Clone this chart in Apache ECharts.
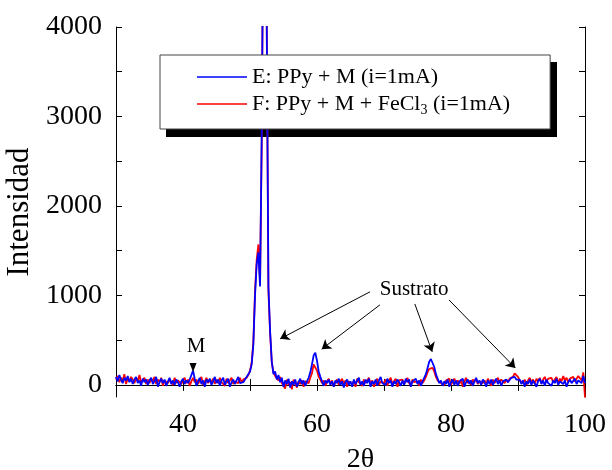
<!DOCTYPE html>
<html>
<head>
<meta charset="utf-8">
<script src="https://cdn.jsdelivr.net/npm/echarts@6/dist/echarts.min.js"></script>
<style>
  html, body { margin: 0; padding: 0; background: #fff; }
  #chart { width: 612px; height: 470px; }
</style>
</head>
<body>
<div id="chart"></div>
<script>
// 2θ grid, 0.25 deg steps
var theta = [
  30,30.25,30.5,30.75,31,31.25,31.5,31.75,32,32.25,32.5,32.75,33,33.25,33.5,33.75,34,34.25,34.5,34.75,
  35,35.25,35.5,35.75,36,36.25,36.5,36.75,37,37.25,37.5,37.75,38,38.25,38.5,38.75,39,39.25,39.5,39.75,
  40,40.25,40.5,40.75,41,41.25,41.5,41.75,42,42.25,42.5,42.75,43,43.25,43.5,43.75,44,44.25,44.5,44.75,
  45,45.25,45.5,45.75,46,46.25,46.5,46.75,47,47.25,47.5,47.75,48,48.25,48.5,48.75,49,49.25,49.5,49.75,
  50,50.25,50.5,50.75,51,51.25,51.5,51.75,52,52.25,52.5,52.75,53,53.25,53.5,53.75,54,54.25,54.5,54.75,
  55,55.25,55.5,55.75,56,56.25,56.5,56.75,57,57.25,57.5,57.75,58,58.25,58.5,58.75,59,59.25,59.5,59.75,
  60,60.25,60.5,60.75,61,61.25,61.5,61.75,62,62.25,62.5,62.75,63,63.25,63.5,63.75,64,64.25,64.5,64.75,
  65,65.25,65.5,65.75,66,66.25,66.5,66.75,67,67.25,67.5,67.75,68,68.25,68.5,68.75,69,69.25,69.5,69.75,
  70,70.25,70.5,70.75,71,71.25,71.5,71.75,72,72.25,72.5,72.75,73,73.25,73.5,73.75,74,74.25,74.5,74.75,
  75,75.25,75.5,75.75,76,76.25,76.5,76.75,77,77.25,77.5,77.75,78,78.25,78.5,78.75,79,79.25,79.5,79.75,
  80,80.25,80.5,80.75,81,81.25,81.5,81.75,82,82.25,82.5,82.75,83,83.25,83.5,83.75,84,84.25,84.5,84.75,
  85,85.25,85.5,85.75,86,86.25,86.5,86.75,87,87.25,87.5,87.75,88,88.25,88.5,88.75,89,89.25,89.5,89.75,
  90,90.25,90.5,90.75,91,91.25,91.5,91.75,92,92.25,92.5,92.75,93,93.25,93.5,93.75,94,94.25,94.5,94.75,
  95,95.25,95.5,95.75,96,96.25,96.5,96.75,97,97.25,97.5,97.75,98,98.25,98.5,98.75,99,99.25,99.5,99.75,
  100
];

// E: PPy + M (azul)
var intensE = [
  90,40,110,60,20,80,50,100,30,70,10,60,90,20,50,-10,70,30,60,0,
  50,80,10,40,90,-20,30,70,20,60,-10,40,80,10,50,0,60,30,-20,40,
  70,10,50,20,60,40,160,70,-10,40,80,10,50,-20,60,30,70,0,40,90,
  20,60,-10,50,80,0,40,70,-20,30,60,10,50,90,20,40,30,60,90,120,
  150,230,450,1000,1350,1480,1100,2800,5500,9000,4000,1100,600,260,120,150,60,110,30,80,
  -20,50,10,70,-30,40,0,60,-20,30,70,10,50,-10,40,80,140,230,330,360,
  270,150,90,40,-10,50,20,60,0,40,-20,50,20,70,0,40,-30,30,60,0,
  40,-20,60,10,50,80,0,40,-10,60,20,70,-20,40,10,60,-10,50,90,20,
  40,0,70,20,50,-20,40,10,60,30,-10,50,0,70,30,60,-20,40,20,70,
  10,50,-10,40,80,120,190,260,290,270,200,120,70,20,50,-10,40,10,60,-20,
  30,60,0,50,-10,40,20,70,-20,30,60,10,50,-10,40,80,20,50,0,60,
  30,-20,50,10,60,0,40,70,10,50,-10,40,20,60,30,50,80,70,90,60,
  40,60,10,50,-20,40,10,60,0,50,30,-20,40,70,10,50,-10,60,20,40,
  -10,50,20,70,0,40,60,10,50,-20,30,60,20,40,70,10,50,30,20,100,
  20
];

// F: PPy + M + FeCl3 (rojo)
var intensF = [
  60,100,30,80,50,120,10,70,40,90,60,20,80,40,110,30,50,80,10,60,
  20,70,40,90,10,60,30,80,-10,50,70,20,60,40,0,80,20,50,70,10,
  50,80,20,60,-10,40,80,30,60,10,50,90,0,40,80,20,60,30,70,10,
  60,20,80,30,50,-10,70,20,50,80,10,40,60,20,80,30,60,40,80,110,
  160,250,480,1050,1400,1570,1150,2700,5500,9000,4000,1050,580,250,140,100,120,50,90,20,
  40,-40,60,0,30,-50,60,20,-30,40,10,50,-20,40,60,20,80,130,230,220,
  160,90,60,20,50,-10,40,70,10,50,-20,30,60,0,40,70,10,50,-20,40,
  60,10,40,-20,70,30,50,-10,60,20,40,80,10,50,-20,30,70,0,40,60,
  20,60,-10,50,80,10,40,70,-20,50,30,60,10,40,80,20,-10,60,30,50,
  40,-10,60,20,50,90,140,180,200,190,150,90,50,70,20,40,0,50,30,70,
  0,40,70,20,50,10,60,-20,40,80,20,50,0,60,30,70,10,40,60,20,
  50,10,70,30,-10,60,20,50,80,30,60,40,20,60,30,70,60,90,130,140,
  90,50,70,20,60,0,50,80,30,60,10,70,40,80,20,60,90,30,70,50,
  80,30,60,90,20,70,40,100,50,80,30,70,50,90,40,60,100,80,50,140,
  -140
];

var yTicks = [0, 500, 1000, 1500, 2000, 2500, 3000, 3500, 4000];
var yLabels = [0, 1000, 2000, 3000, 4000];

// flechas "Sustrato": [x0, y0, x1, y1] en coordenadas de datos
var sustratoArrows = [
  [67.9, 1040, 54.5, 515],
  [69.4, 895, 60.7, 400],
  [74.6, 905, 77.2, 370],
  [79.7, 950, 89.6, 190]
];
var sustratoLabel = [74.5, 1065];
var mLabel = [41.95, 424];
var mMarker = [41.5, 195];

var nameE = 'E: PPy + M (i=1mA)';
var nameF = 'F: PPy + M + FeCl3 (i=1mA)';

var FONT = "'Liberation Serif', 'Times New Roman', serif";

function pairs(ys) {
  return theta.map(function (t, i) { return [t, ys[i]]; });
}

var chart = echarts.init(document.getElementById('chart'), null, { renderer: 'canvas' });

var axisLine = { show: true, lineStyle: { color: '#000', width: 1 } };
var tickStyle = { color: '#000', width: 1 };

chart.setOption({
  animation: false,
  backgroundColor: '#fff',
  grid: { left: 116, right: 27, top: 27, bottom: 73, outerBoundsMode: 'none', containLabel: false },
  // sombra negra de la leyenda (debajo de la leyenda, encima de las curvas)
  graphic: [{
    type: 'rect',
    z: 3,
    silent: true,
    shape: { x: 166, y: 62, width: 391, height: 75 },
    style: { fill: '#000' }
  }],
  legend: {
    orient: 'vertical',
    left: 160,
    top: 55,
    data: [nameE, nameF],
    icon: 'rect',
    itemWidth: 50,
    itemHeight: 1.5,
    itemGap: 5,
    padding: [11, 40, 12, 37],
    backgroundColor: '#fff',
    borderColor: '#444',
    borderWidth: 1,
    formatter: function (name) {
      return name === nameF ? 'F: PPy + M + FeCl{sub|3} (i=1mA)' : name;
    },
    textStyle: {
      fontFamily: FONT,
      fontSize: 22,
      color: '#000',
      rich: {
        sub: { fontFamily: FONT, fontSize: 14, color: '#000', padding: [12, 0, 0, 0] }
      }
    }
  },
  xAxis: [{
    type: 'value',
    min: 30,
    max: 100,
    interval: 10,
    position: 'bottom',
    axisLine: axisLine,
    axisTick: { inside: true, length: 6, lineStyle: tickStyle },
    axisLabel: {
      fontFamily: FONT, fontSize: 28, color: '#000', margin: 14,
      formatter: function (v) { return v % 20 === 0 ? String(v) : ''; }
    },
    splitLine: { show: false },
    name: '2θ',
    nameLocation: 'middle',
    nameGap: 49,
    nameTextStyle: { fontFamily: FONT, fontSize: 28, color: '#000', padding: [0, 0, 0, 20] }
  }, {
    type: 'value',
    min: 30,
    max: 100,
    interval: 10,
    position: 'top',
    axisLine: axisLine,
    axisTick: { inside: true, length: 6, lineStyle: tickStyle },
    axisLabel: { show: false },
    splitLine: { show: false }
  }],
  yAxis: [{
    type: 'value',
    min: -135,
    max: 4000,
    position: 'left',
    axisLine: axisLine,
    axisTick: { inside: true, length: 6, lineStyle: tickStyle, customValues: yTicks },
    axisLabel: {
      fontFamily: FONT, fontSize: 28, color: '#000', margin: 14, customValues: yLabels,
      formatter: function (v) { return String(v); }
    },
    splitLine: { show: false },
    name: 'Intensidad',
    nameLocation: 'middle',
    nameGap: 80,
    nameTextStyle: { fontFamily: FONT, fontSize: 31, color: '#000' }
  }, {
    type: 'value',
    min: -135,
    max: 4000,
    position: 'right',
    axisLine: axisLine,
    axisTick: { inside: true, length: 6, lineStyle: tickStyle, customValues: yTicks },
    axisLabel: { show: false },
    splitLine: { show: false }
  }],
  series: [{
    name: nameF,
    type: 'line',
    data: pairs(intensF),
    symbol: 'none',
    lineStyle: { color: '#ff0000', width: 1.8 },
    itemStyle: { color: '#ff0000' }
  }, {
    name: nameE,
    type: 'line',
    data: pairs(intensE),
    symbol: 'none',
    lineStyle: { color: '#0000ff', width: 1.8 },
    itemStyle: { color: '#0000ff' },
    markLine: {
      silent: true,
      symbol: ['none', 'arrow'],
      symbolSize: 9,
      label: { show: false },
      lineStyle: { color: '#000', width: 1, type: 'solid' },
      emphasis: { disabled: true },
      data: sustratoArrows.map(function (a) {
        return [{ coord: [a[0], a[1]] }, { coord: [a[2], a[3]] }];
      })
    },
    markPoint: {
      silent: true,
      data: [{
        coord: sustratoLabel,
        symbol: 'circle',
        symbolSize: 1,
        itemStyle: { color: 'rgba(0,0,0,0)' },
        label: { show: true, position: 'inside', formatter: 'Sustrato', fontFamily: FONT, fontSize: 21, color: '#000' }
      }, {
        coord: mLabel,
        symbol: 'circle',
        symbolSize: 1,
        itemStyle: { color: 'rgba(0,0,0,0)' },
        label: { show: true, position: 'inside', formatter: 'M', fontFamily: FONT, fontSize: 21, color: '#000' }
      }, {
        coord: mMarker,
        symbol: 'triangle',
        symbolRotate: 180,
        symbolSize: [7, 9],
        itemStyle: { color: '#000' },
        label: { show: false }
      }]
    }
  }]
});
</script>
</body>
</html>
